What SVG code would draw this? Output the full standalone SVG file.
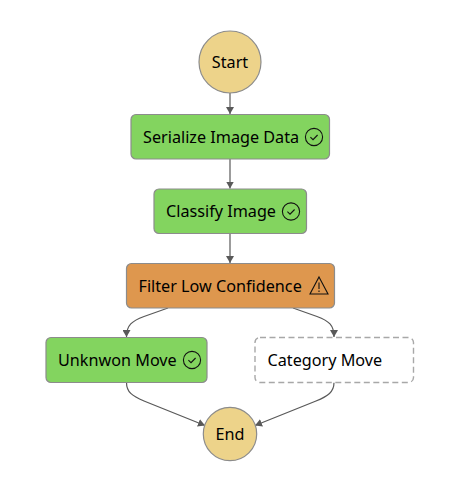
<svg xmlns="http://www.w3.org/2000/svg" width="455" height="499" viewBox="0 0 455 499">
<style>
text{font-family:"Noto Sans","Open Sans","Liberation Sans",sans-serif;font-size:16.2px;fill:#000;dominant-baseline:central}
.c{fill:#edd38a;stroke:#8c8c8c;stroke-width:1.2}
.g{fill:#83d45f;stroke:#8c8c8c;stroke-width:1.2}
.o{fill:#de974e;stroke:#8c8c8c;stroke-width:1.2}
.w{fill:#fff;stroke:#a8a8a8;stroke-width:1.4;stroke-dasharray:6 3.5}
.e{fill:none;stroke:#595959;stroke-width:1.2;marker-end:url(#a)}
.i{fill:none;stroke:#111;stroke-width:1.1}
</style>
<defs>
<marker id="a" markerUnits="userSpaceOnUse" markerWidth="8" markerHeight="8" refX="7" refY="4" orient="auto"><path d="M0 0L7 4L0 8Z" fill="#595959"/></marker>
<g id="ok"><circle r="8.6" class="i"/><path d="M-3.6 .2L-1 2.700L3.6-2" class="i"/></g>
</defs>
<rect width="455" height="499" fill="#fff"/>
<g id="connectors">
<path class="e" d="M230 93V114"/>
<path class="e" d="M230 159V188.500"/>
<path class="e" d="M230 233.500V263"/>
<path class="e" d="M168 308L144 316.500C132 321 126.500 325 126.500 337"/>
<path class="e" d="M293 308L317 316.500C329 321 334 325 334 337"/>
<path class="e" d="M126.500 382.500C126.500 392 132 396 144 401L205 425.500"/>
<path class="e" d="M334 382.500C334 392 328 396 316 401L255 425.500"/>
</g>
<g id="start"><circle class="c" cx="230" cy="62" r="31"/><text x="230" y="62" text-anchor="middle">Start</text></g>
<g id="serialize"><rect class="g" x="131" y="114.500" width="198.500" height="44.500" rx="5"/><text x="143" y="137">Serialize Image Data</text><use href="#ok" x="314" y="137"/></g>
<g id="classify"><rect class="g" x="154" y="189" width="152.500" height="44.500" rx="5"/><text x="166" y="211">Classify Image</text><use href="#ok" x="291" y="211.500"/></g>
<g id="filter"><rect class="o" x="126.500" y="263.500" width="208" height="44.500" rx="5"/><text x="138.500" y="285.500">Filter Low Confidence</text><path class="i" d="M319 277L328 294H310Z"/><path d="M319 282.500V289M319 290.500V292" class="i"/></g>
<g id="unknown"><rect class="g" x="46" y="337.500" width="161" height="45" rx="5"/><text x="58" y="359.500">Unknwon Move</text><use href="#ok" x="192" y="360"/></g>
<g id="category"><rect class="w" x="255" y="337.500" width="158.500" height="45" rx="5"/><text x="267.500" y="359.500">Category Move</text></g>
<g id="end"><circle class="c" cx="230" cy="434" r="26.700"/><text x="230" y="434" text-anchor="middle">End</text></g>
</svg>
